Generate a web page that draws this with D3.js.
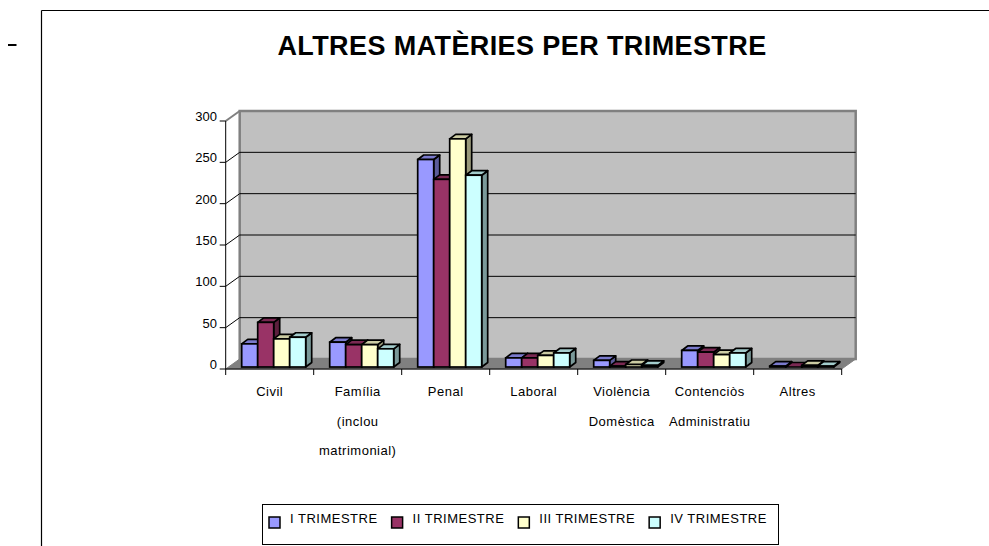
<!DOCTYPE html>
<html>
<head>
<meta charset="utf-8">
<script src="https://cdn.jsdelivr.net/npm/d3@7"></script>
<style>
  body { margin: 0; background: #fff; }
  text { font-family: "Liberation Sans", Arial, sans-serif; }
</style>
</head>
<body>
<div id="chart"></div>
<script>

// categories (multi-line labels) and the four quarters
var categories = [
  ["Civil"],
  ["Família", "(inclou", "matrimonial)"],
  ["Penal"],
  ["Laboral"],
  ["Violència", "Domèstica"],
  ["Contenciòs", "Administratiu"],
  ["Altres"]
];
var seriesNames = ["I TRIMESTRE", "II TRIMESTRE", "III TRIMESTRE", "IV TRIMESTRE"];
var trim1 = [28, 30, 251, 11, 8, 20, 1];
var trim2 = [54, 27, 227, 11, 1, 18, 0];
var trim3 = [34, 27, 276, 14, 3, 15, 2];
var trim4 = [36, 22, 232, 17, 2, 17, 1];
var yTicks = [0, 50, 100, 150, 200, 250, 300];
var colors = ["#9999FF", "#993366", "#FFFFCC", "#CCFFFF"];

var values = [trim1, trim2, trim3, trim4];

var width = 989, height = 546;

var svg = d3.select("#chart")
  .append("svg")
  .attr("width", width)
  .attr("height", height);

// outer frame of the chart object
svg.append("line")
  .attr("x1", 41.5).attr("x2", 989).attr("y1", 10.5).attr("y2", 10.5)
  .attr("stroke", "#000").attr("stroke-width", 1.2);
svg.append("line")
  .attr("x1", 41.5).attr("x2", 41.5).attr("y1", 10.5).attr("y2", 546)
  .attr("stroke", "#000").attr("stroke-width", 1.2);
// stray dash at the left
svg.append("line")
  .attr("x1", 8).attr("x2", 16.5).attr("y1", 45).attr("y2", 45)
  .attr("stroke", "#000").attr("stroke-width", 2);

// title
svg.append("text")
  .attr("x", 522)
  .attr("y", 55)
  .attr("text-anchor", "middle")
  .style("font-size", "27px")
  .style("font-weight", "bold")
  .attr("letter-spacing", "0.4px")
  .text("ALTRES MATÈRIES PER TRIMESTRE");

// scales
var x = d3.scaleBand()
  .domain(d3.range(categories.length))
  .range([225.7, 841.7]);

var xs = d3.scaleBand()
  .domain(d3.range(seriesNames.length))
  .range([13, 77]);

var y = d3.scaleLinear()
  .domain([0, 300])
  .range([369, 121]);

// 3d depth of the walls and of the bars
var DX = 14, DY = -10;
var OX = 3, OY = -2;      // bar offset into the floor
var BX = 6, BY = -4.5;    // bar depth

var x0 = x.range()[0], x1 = x.range()[1];

// left side wall
svg.append("path")
  .attr("d", d3.line()([[x0, y(0)], [x0 + DX, y(0) + DY], [x0 + DX, y(300) + DY], [x0, y(300)]]) + "Z")
  .attr("fill", "#fff");

// back wall
svg.append("rect")
  .attr("x", x0 + DX)
  .attr("y", y(300) + DY)
  .attr("width", x1 - x0)
  .attr("height", y(0) - y(300))
  .attr("fill", "#C0C0C0")
  .attr("stroke", "#808080")
  .attr("stroke-width", 2.5);

// floor
svg.append("path")
  .attr("d", d3.line()([[x0, y(0)], [x1, y(0)], [x1 + DX, y(0) + DY], [x0 + DX, y(0) + DY]]) + "Z")
  .attr("fill", "#808080")
  .attr("stroke", "#808080")
  .attr("stroke-width", 1);

// gridlines on back wall and side wall
yTicks.slice(1, -1).forEach(function (t) {
  svg.append("line")
    .attr("x1", x0 + DX).attr("x2", x1 + DX)
    .attr("y1", y(t) + DY).attr("y2", y(t) + DY)
    .attr("stroke", "#000").attr("stroke-width", 1);
  svg.append("line")
    .attr("x1", x0).attr("x2", x0 + DX)
    .attr("y1", y(t)).attr("y2", y(t) + DY)
    .attr("stroke", "#000").attr("stroke-width", 1);
});
// top edge of side wall
svg.append("line")
  .attr("x1", x0).attr("x2", x0 + DX)
  .attr("y1", y(300)).attr("y2", y(300) + DY)
  .attr("stroke", "#808080").attr("stroke-width", 2);

// bars
var barG = svg.append("g");
categories.forEach(function (c, i) {
  seriesNames.forEach(function (s, j) {
    var v = values[j][i];
    var col = d3.color(colors[j]);
    var top = col.copy(); top.r *= 0.8; top.g *= 0.8; top.b *= 0.8;
    var side = col.copy(); side.r *= 0.6; side.g *= 0.6; side.b *= 0.6;
    var bl = x(i) + xs(j) + OX;
    var br = bl + xs.bandwidth();
    var yb = y(0) + OY;
    var yt = y(v) + OY;
    // side face
    barG.append("path")
      .attr("d", d3.line()([[br, yb], [br + BX, yb + BY], [br + BX, yt + BY], [br, yt]]) + "Z")
      .attr("fill", side.formatHex())
      .attr("stroke", "#000").attr("stroke-width", 1.7).attr("stroke-linejoin", "round");
    // top face
    barG.append("path")
      .attr("d", d3.line()([[bl, yt], [br, yt], [br + BX, yt + BY], [bl + BX, yt + BY]]) + "Z")
      .attr("fill", top.formatHex())
      .attr("stroke", "#000").attr("stroke-width", 1.7).attr("stroke-linejoin", "round");
    // front face
    barG.append("rect")
      .attr("x", bl)
      .attr("y", yt)
      .attr("width", br - bl)
      .attr("height", yb - yt)
      .attr("fill", colors[j])
      .attr("stroke", "#000").attr("stroke-width", 1.7);
  });
});

// y axis
svg.append("line")
  .attr("x1", x0).attr("x2", x0).attr("y1", y(0)).attr("y2", y(300))
  .attr("stroke", "#000").attr("stroke-width", 1);
yTicks.forEach(function (t) {
  svg.append("line")
    .attr("x1", x0 - 6).attr("x2", x0).attr("y1", y(t)).attr("y2", y(t))
    .attr("stroke", "#000").attr("stroke-width", 1);
  svg.append("text")
    .attr("x", 217)
    .attr("y", y(t))
    .attr("text-anchor", "end")
    .style("font-size", "13px")
    .text(t);
});

// x axis
svg.append("line")
  .attr("x1", x0).attr("x2", x1).attr("y1", y(0)).attr("y2", y(0))
  .attr("stroke", "#000").attr("stroke-width", 1);
d3.range(categories.length + 1).forEach(function (i) {
  var xt = x0 + i * x.bandwidth();
  svg.append("line")
    .attr("x1", xt).attr("x2", xt).attr("y1", y(0)).attr("y2", y(0) + 6)
    .attr("stroke", "#000").attr("stroke-width", 1);
});
categories.forEach(function (c, i) {
  c.forEach(function (line, k) {
    svg.append("text")
      .attr("x", x(i) + x.bandwidth() / 2)
      .attr("y", 396 + k * 29.5)
      .attr("text-anchor", "middle")
      .style("font-size", "13px")
      .attr("letter-spacing", "0.5px")
      .text(line);
  });
});

// legend
svg.append("rect")
  .attr("x", 262.5).attr("y", 504.5)
  .attr("width", 516).attr("height", 40)
  .attr("fill", "none")
  .attr("stroke", "#000").attr("stroke-width", 1);

var lx = 269;
seriesNames.forEach(function (s, j) {
  svg.append("rect")
    .attr("x", lx).attr("y", 517)
    .attr("width", 11).attr("height", 11)
    .attr("fill", colors[j])
    .attr("stroke", "#000").attr("stroke-width", 1.5);
  var t = svg.append("text")
    .attr("x", lx + 21)
    .attr("y", 523)
    .style("font-size", "13px")
    .attr("letter-spacing", "0.5px")
    .text(s);
  lx = lx + 21 + t.node().getComputedTextLength() + 14;
});

</script>
</body>
</html>
